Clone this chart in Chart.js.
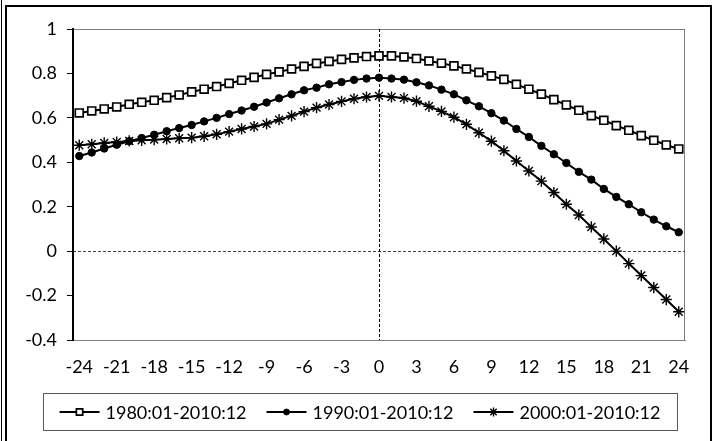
<!DOCTYPE html>
<html>
<head>
<meta charset="utf-8">
<script src="https://cdn.jsdelivr.net/npm/chart.js@4.4.1/dist/chart.umd.min.js"></script>
<style>
  html, body { margin: 0; padding: 0; background: #ffffff; }
  #wrap { width: 722px; height: 441px; position: relative; }
</style>
</head>
<body>
<div id="wrap"><canvas id="c" width="722" height="441"></canvas></div>
<script>
// Lags (months)
const lags = [-24,-23,-22,-21,-20,-19,-18,-17,-16,-15,-14,-13,-12,-11,-10,-9,-8,-7,-6,-5,-4,-3,-2,-1,
              0,1,2,3,4,5,6,7,8,9,10,11,12,13,14,15,16,17,18,19,20,21,22,23,24];

const seriesNames = ['1980:01-2010:12', '1990:01-2010:12', '2000:01-2010:12'];

// Cross-correlation by sample period
const corr1980 = [0.622,0.631,0.640,0.649,0.661,0.670,0.679,0.691,0.703,0.717,0.729,0.741,
                  0.755,0.769,0.782,0.796,0.807,0.820,0.832,0.845,0.854,0.863,0.870,0.876,0.879,
                  0.879,0.874,0.867,0.856,0.846,0.834,0.820,0.805,0.789,0.773,0.751,0.729,
                  0.707,0.682,0.658,0.634,0.610,0.589,0.565,0.544,0.520,0.499,0.478,0.460];
const corr1990 = [0.428,0.444,0.462,0.479,0.495,0.509,0.524,0.540,0.554,0.568,0.584,0.600,
                  0.617,0.633,0.650,0.669,0.688,0.706,0.724,0.736,0.751,0.761,0.771,0.777,0.781,
                  0.777,0.772,0.760,0.746,0.727,0.706,0.679,0.652,0.621,0.588,0.550,0.514,
                  0.474,0.436,0.397,0.357,0.322,0.280,0.244,0.211,0.175,0.142,0.112,0.085];
const corr2000 = [0.477,0.481,0.487,0.491,0.496,0.499,0.502,0.505,0.508,0.511,0.517,0.526,
                  0.538,0.550,0.561,0.573,0.592,0.609,0.628,0.646,0.660,0.674,0.686,0.694,0.699,
                  0.694,0.689,0.675,0.652,0.629,0.603,0.571,0.533,0.495,0.452,0.406,0.361,
                  0.315,0.264,0.211,0.163,0.109,0.055,0.000,-0.056,-0.110,-0.164,-0.218,-0.273];

const yTicks = [-0.4, -0.2, 0, 0.2, 0.4, 0.6, 0.8, 1];
const labelStep = 3;

const FONT = 'Lato, "Open Sans", sans-serif';
const FONT_SIZE = 18;

const markerStyles = [
  { pointStyle: 'rect',   pointRadius: 5.6, pointBackgroundColor: '#ffffff', pointBorderWidth: 1.7 },
  { pointStyle: 'circle', pointRadius: 3.7, pointBackgroundColor: '#000000', pointBorderWidth: 1 },
  { pointStyle: 'star',   pointRadius: 5.6, pointBackgroundColor: '#000000', pointBorderWidth: 1.4 }
];

// Frame, reference lines and the line+marker legend
const decor = {
  id: 'decor',
  beforeDatasetsDraw(chart) {
    const { ctx, chartArea: a, scales: { x, y } } = chart;
    ctx.save();
    // plot-area outline (top/right/bottom)
    ctx.strokeStyle = '#7f7f7f';
    ctx.lineWidth = 1;
    ctx.strokeRect(a.left + 0.5, a.top + 0.5, a.right - a.left - 1, a.bottom - a.top);
    // horizontal dashed zero line
    ctx.setLineDash([3, 2]);
    ctx.strokeStyle = '#404040';
    const y0 = Math.round(y.getPixelForValue(0)) + 0.5;
    ctx.beginPath(); ctx.moveTo(a.left, y0); ctx.lineTo(a.right, y0); ctx.stroke();
    // vertical dashed line at lag 0
    ctx.strokeStyle = '#000000';
    const x0 = Math.round(x.getPixelForValue(lags.indexOf(0))) + 0.5;
    ctx.beginPath(); ctx.moveTo(x0, a.top); ctx.lineTo(x0, a.bottom); ctx.stroke();
    ctx.setLineDash([]);
    // left value axis
    ctx.strokeStyle = '#000000';
    ctx.lineWidth = 2;
    ctx.beginPath(); ctx.moveTo(a.left, a.top); ctx.lineTo(a.left, a.bottom + 1); ctx.stroke();
    ctx.restore();
  },
  afterDraw(chart) {
    const { ctx } = chart;
    ctx.save();
    // outer double frame
    ctx.strokeStyle = '#000000';
    ctx.lineWidth = 1;
    ctx.beginPath(); ctx.moveTo(1.5, 0); ctx.lineTo(1.5, 441); ctx.stroke();
    ctx.lineWidth = 2;
    ctx.strokeRect(6, 6, 705, 450);

    // legend box
    const bx = 43, by = 393, bw = 634, bh = 37;
    ctx.lineWidth = 1;
    ctx.strokeStyle = '#595959';
    ctx.strokeRect(bx + 0.5, by + 0.5, bw, bh);

    ctx.font = FONT_SIZE + 'px ' + FONT;
    ctx.fillStyle = '#000000';
    ctx.textBaseline = 'middle';
    const sampleW = 40, gapText = 6, gapItem = 20;
    const widths = seriesNames.map(n => ctx.measureText(n).width);
    const total = widths.reduce((s, w) => s + sampleW + gapText + w, 0) + gapItem * (seriesNames.length - 1);
    let cx = bx + bw / 2 - total / 2;
    const cy = by + bh / 2 + 0.5;
    chart.data.datasets.forEach((ds, i) => {
      ctx.strokeStyle = '#000000';
      ctx.lineWidth = 2;
      ctx.beginPath(); ctx.moveTo(cx, cy); ctx.lineTo(cx + sampleW, cy); ctx.stroke();
      const m = markerStyles[i];
      ctx.fillStyle = m.pointBackgroundColor;
      ctx.strokeStyle = '#000000';
      ctx.lineWidth = m.pointBorderWidth;
      Chart.helpers.drawPoint(ctx, { pointStyle: m.pointStyle, radius: m.pointRadius * 0.8, rotation: 0, borderWidth: m.pointBorderWidth }, cx + sampleW / 2, cy);
      ctx.fillStyle = '#000000';
      ctx.textAlign = 'left';
      ctx.fillText(seriesNames[i], cx + sampleW + gapText, cy + 1);
      cx += sampleW + gapText + widths[i] + gapItem;
    });
    ctx.restore();
  }
};

const datasets = [corr1980, corr1990, corr2000].map((vals, i) => Object.assign({
  label: seriesNames[i],
  data: vals,
  borderColor: '#000000',
  borderWidth: 2,
  pointBorderColor: '#000000',
  pointHoverRadius: 0,
  tension: 0,
  fill: false
}, markerStyles[i]));

new Chart(document.getElementById('c'), {
  type: 'line',
  data: { labels: lags.map(String), datasets },
  options: {
    responsive: false,
    devicePixelRatio: 1,
    animation: false,
    events: [],
    layout: { padding: { top: 29, right: 37, left: 0, bottom: 0 } },
    plugins: { legend: { display: false }, tooltip: { enabled: false } },
    scales: {
      x: {
        type: 'category',
        offset: true,
        grid: { display: false, drawTicks: false },
        border: { display: true, color: '#7f7f7f', width: 1 },
        ticks: {
          autoSkip: false,
          maxRotation: 0,
          padding: 16,
          color: '#000000',
          font: { family: FONT, size: FONT_SIZE },
          callback(v) {
            const lag = Number(this.getLabelForValue(v));
            return lag % labelStep === 0 ? String(lag) : '';
          }
        },
        afterFit(scale) { scale.height = 101; }
      },
      y: {
        min: -0.4,
        max: 1,
        afterBuildTicks(scale) { scale.ticks = yTicks.map(v => ({ value: v })); },
        grid: { drawOnChartArea: false, drawTicks: true, tickLength: 6, color: '#000000', lineWidth: 1 },
        border: { display: true, color: '#000000', width: 2 },
        ticks: {
          padding: 10,
          color: '#000000',
          font: { family: FONT, size: FONT_SIZE },
          callback(v) { return String(parseFloat(Number(v).toFixed(1))); }
        },
        afterFit(scale) { scale.width = 73; }
      }
    }
  },
  plugins: [decor]
});
</script>
</body>
</html>
